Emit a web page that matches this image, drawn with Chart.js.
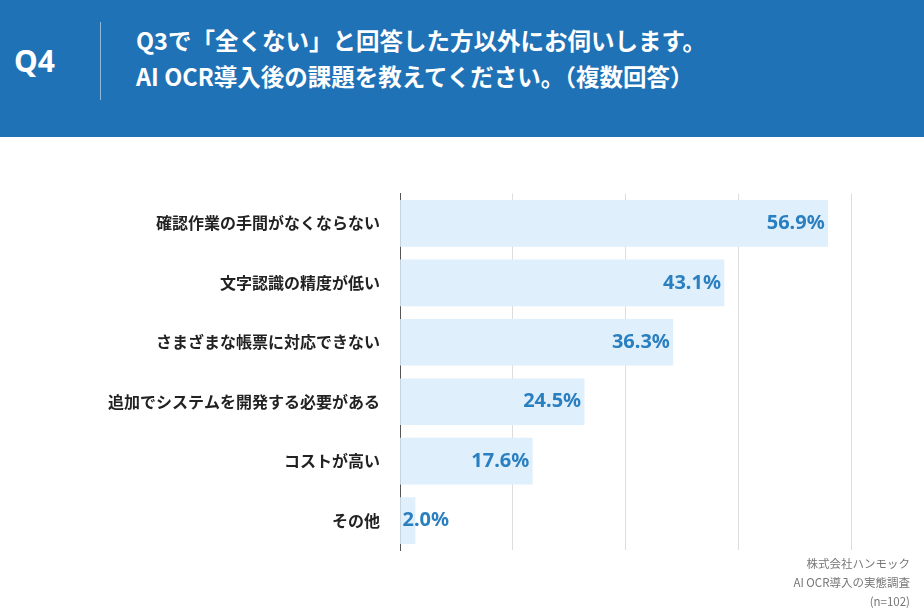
<!DOCTYPE html>
<html><head><meta charset="utf-8">
<script src="https://cdn.jsdelivr.net/npm/chart.js@4"></script>
<style>
body{margin:0;width:924px;height:616px;background:#fff;font-family:"Noto Sans CJK JP","Noto Sans",sans-serif;overflow:hidden;position:relative}
#hdr{position:absolute;left:0;top:0;width:924px;height:137px;background:#1f72b6;color:#fff}
#q{position:absolute;left:14px;top:40px;font-size:30px;font-weight:bold;font-family:"Noto Sans",sans-serif}
#div{position:absolute;left:100px;top:22px;width:1px;height:78px;background:#8db8dc}
#t{position:absolute;left:136px;top:22px;font-size:23.5px;font-weight:bold;line-height:36px}
#wrap{position:absolute;left:0;top:172px;width:924px;height:400px}
#foot{position:absolute;right:14px;top:554px;text-align:right;font-size:11.5px;color:#777;line-height:19px}
</style></head><body>
<div id="hdr"><div id="q">Q4</div><div id="div"></div>
<div id="t">Q3で「全くない」と回答した方以外にお伺いします。<br>AI OCR導入後の課題を教えてください。（複数回答）</div></div>
<div id="wrap"><canvas id="c" width="924" height="400"></canvas></div>
<div id="foot">株式会社ハンモック<br>AI OCR導入の実態調査<br>(n=102)</div>
<script>
const categories = ['確認作業の手間がなくならない','文字認識の精度が低い','さまざまな帳票に対応できない','追加でシステムを開発する必要がある','コストが高い','その他'];
const values = [56.9, 43.1, 36.3, 24.5, 17.6, 2.0];

const labelPlugin = {
  id: 'vals',
  afterDatasetsDraw(chart) {
    const ctx = chart.ctx;
    const meta = chart.getDatasetMeta(0);
    ctx.save();
    ctx.font = 'bold 20px "Noto Sans", sans-serif';
    ctx.fillStyle = '#2a7fc0';
    ctx.textBaseline = 'middle';
    meta.data.forEach((bar, i) => {
      const txt = values[i].toFixed(1) + '%';
      const w = ctx.measureText(txt).width;
      if (bar.x - bar.base > w + 10) { ctx.textAlign = 'right'; ctx.fillText(txt, bar.x - 3, bar.y); }
      else { ctx.textAlign = 'left'; ctx.fillText(txt, bar.base + 2, bar.y); }
    });
    ctx.restore();
  }
};

new Chart(document.getElementById('c'), {
  type: 'bar',
  data: { labels: categories, datasets: [{ data: values, backgroundColor: '#dfeffb', barThickness: 46 }] },
  options: {
    indexAxis: 'y', responsive: false, animation: false,
    layout: { padding: { left: 0, right: 73, top: 5, bottom: 0 } },
    plugins: { legend: { display: false }, tooltip: { enabled: false } },
    scales: {
      x: { min: 0, max: 60, ticks: { stepSize: 15, display: false }, grid: { color: '#dddddd', drawTicks: false }, border: { display: false } },
      y: { afterFit(s) { s.width = 400; }, ticks: { color: '#222', font: { size: 16, weight: 'bold', family: '"Noto Sans CJK JP"' }, padding: 12 },
           grid: { display: false }, border: { color: '#555', width: 1 } }
    }
  },
  plugins: [labelPlugin]
});
</script></body></html>
